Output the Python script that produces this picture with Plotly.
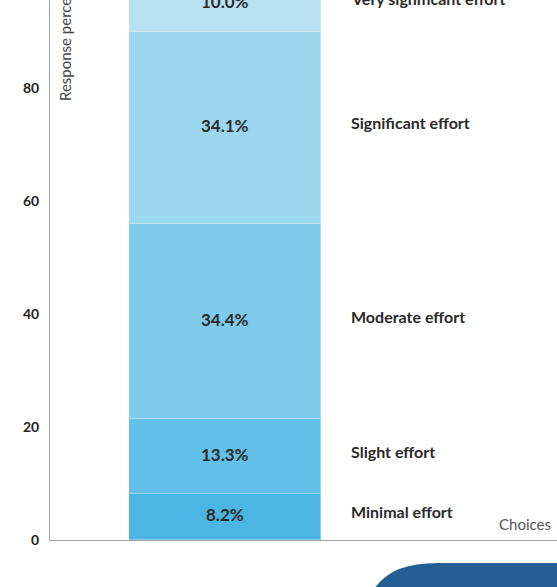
import plotly.graph_objects as go

# Data
choices = ["Minimal effort", "Slight effort", "Moderate effort", "Significant effort", "Very significant effort"]
values = [8.2, 13.3, 34.4, 34.1, 10.0]
colors = ["#4bb5e3", "#63c0e8", "#7fcbeb", "#9cd7f0", "#b8e1f2"]
y_ticks = [0, 20, 40, 60, 80]

W, H = 557, 587
L, B = 50, 47
plot_w = W - L
plot_h = H - B
px_per_unit = 5.65
y_top = plot_h / px_per_unit

fig = go.Figure()
for name, v, c in zip(choices, values, colors):
    fig.add_trace(go.Bar(
        x=[0], y=[v], name=name, width=1.097,
        marker=dict(color=c, line=dict(color="rgba(255,255,255,0.35)", width=1)),
        hoverinfo="skip", showlegend=False,
    ))

txt_font = dict(family="Lato, sans-serif", size=17, color="#2a2a2a", weight=700)
lab_font = dict(family="Lato, sans-serif", size=16, color="#2a2a2a", weight=700)
cum = 0
annotations = []
label_x = (349 - L) / plot_w
for name, v in zip(choices, values):
    mid = cum + v / 2
    cum += v
    annotations.append(dict(x=0, y=mid, xref="x", yref="y", text=f"{v:.1f}%",
                            showarrow=False, font=txt_font, yshift=2,
                            xanchor="center", yanchor="middle"))
    annotations.append(dict(x=label_x, y=mid, xref="paper", yref="y", text=name,
                            showarrow=False, font=lab_font, xanchor="left", yanchor="middle", yshift=5))

annotations.append(dict(x=(65 - L) / plot_w, y=(plot_h - 103) / plot_h, xref="paper", yref="paper",
                        text="Response percentage", textangle=-90, showarrow=False,
                        xanchor="center", yanchor="bottom",
                        font=dict(family="Lato, sans-serif", size=15, color="#444444")))
annotations.append(dict(x=1, y=(plot_h - 524) / plot_h, xref="paper", yref="paper",
                        text="Choices", showarrow=False, xanchor="right", yanchor="middle", xshift=-4,
                        font=dict(family="Lato, sans-serif", size=15, color="#555555")))

def px(x):
    return (x - L) / plot_w

def py(y):
    return (plot_h - y) / plot_h

path = (f"M {px(368)},{py(598)} C {px(385)},{py(569)} {px(405)},{py(563)} {px(445)},{py(563)} "
        f"L {px(620)},{py(563)} L {px(620)},{py(620)} L {px(368)},{py(620)} Z")

fig.update_layout(
    width=W, height=H,
    margin=dict(l=L, r=0, t=0, b=B, pad=0),
    barmode="stack",
    bargap=0,
    plot_bgcolor="white", paper_bgcolor="white",
    annotations=annotations,
    shapes=[dict(type="path", path=path, xref="paper", yref="paper",
                 fillcolor="#245f94", line=dict(width=0), layer="above")],
    xaxis=dict(range=[-1, (W - L) / 175 - 1], showticklabels=False, showgrid=False, zeroline=False,
               showline=True, linecolor="#a0a0a0", linewidth=1, fixedrange=True),
    yaxis=dict(range=[0, y_top], tickvals=y_ticks, showgrid=False, zeroline=False,
               showline=True, linecolor="#a0a0a0", linewidth=1,
               tickfont=dict(family="Lato, sans-serif", size=14, color="#222222", weight=700),
               ticklabelstandoff=7, fixedrange=True),
)

fig.write_html("out.html")
